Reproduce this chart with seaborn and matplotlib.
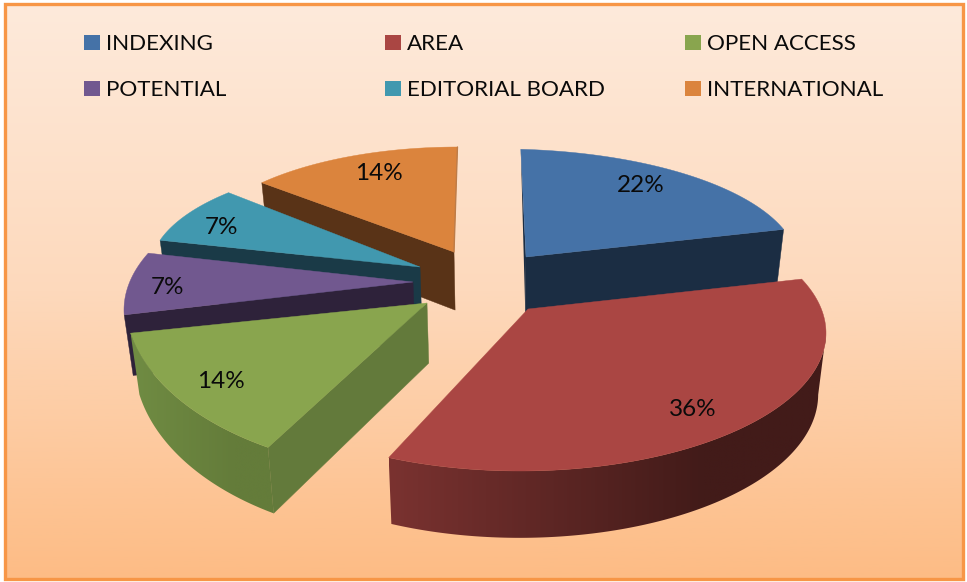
import numpy as np
import matplotlib
matplotlib.use("Agg")
import matplotlib.pyplot as plt
from matplotlib.colors import LinearSegmentedColormap
from matplotlib.patches import Polygon, Rectangle
import seaborn as sns

# ---- data ----
categories = ["INDEXING", "AREA", "OPEN ACCESS", "POTENTIAL", "EDITORIAL BOARD", "INTERNATIONAL"]
values = [22, 36, 14, 7, 7, 14]

# ---- styles ----
sns.set_theme(style="white")
plt.rcParams["font.family"] = ["Lato", "DejaVu Sans"]
top_colors = sns.color_palette(["#4572A7", "#AA4643", "#89A54E", "#71588F", "#4198AF", "#DB843D"])
cut_colors = sns.color_palette(["#1B2D43", "#78302F", "#637A3B", "#2E223A", "#1A3A47", "#593317"])
wall_left = ["#1B2D43", "#7A3230", "#708C43", "#2E223A", "#1A3A47", "#593317"]
wall_right = ["#1B2D43", "#421B19", "#647C3A", "#2E223A", "#1A3A47", "#593317"]

# ---- layout: one projected disc per slice (pixels of the 967x582 frame) ----
apex_x = [526, 528, 427, 413, 420, 454]
apex_y = [257, 309, 303, 282, 267, 252]
disc_x = [500, 520, 420, 406, 410, 458]
disc_y = [265, 333, 300, 310, 270, 255]
disc_a = [298, 306, 295, 282, 260, 264]
disc_b = [116, 138, 172, 140, 108, 108]
view_start = [4, 67, 211, 268, 286, 312]
view_stretch = [0.86, 1.068, 0.95, 1.03, 1.18, 0.95]
cut_edge = ["end", None, "start", "start", "start", "start"]
has_wall = [False, True, True, True, False, False]
draw_order = [5, 0, 4, 3, 2, 1]
label_x = [641, 693, 221, 167, 222, 379]
label_y = [186, 410, 382, 287, 227, 174]
legend_x = [84, 385, 685]
legend_y = [42, 88]


def lower(pts):
    """Project points of the top face to the bottom face of the slab."""
    pts = np.asarray(pts, dtype=float)
    return np.column_stack([
        pts[:, 0] + 0.024 * (500 - pts[:, 0]),
        pts[:, 1] + 58 + 0.04 * (pts[:, 1] - 250),
    ])


fig = plt.figure(figsize=(9.67, 5.82), dpi=100, facecolor="white")
ax = fig.add_axes([0, 0, 1, 1])

# background
bg = LinearSegmentedColormap.from_list("bg", ["#FEEADB", "#FDD9BC", "#FDBC85"])
ax.imshow(np.linspace(0, 1, 256).reshape(-1, 1), cmap=bg, aspect="auto",
          extent=(5, 962, 578, 4), zorder=0)
ax.add_patch(Rectangle((4.5, 4), 958, 575, fill=False, ec="#F79646", lw=2.4, zorder=1))

# slices
total = sum(values)
sweeps = [v / total * 360 for v in values]
for i in draw_order:
    t0 = np.radians(view_start[i])
    t1 = np.radians(view_start[i] + sweeps[i] * view_stretch[i])
    t = np.linspace(t0, t1, 180)
    arc = np.column_stack([disc_x[i] + disc_a[i] * np.sin(t), disc_y[i] - disc_b[i] * np.cos(t)])
    apex = np.array([[apex_x[i], apex_y[i]]], dtype=float)
    z = 3 + draw_order.index(i) * 3

    if has_wall[i]:
        front = arc[np.argmax(arc[:, 0]):]
        low = lower(front)
        outline = Polygon(np.vstack([front, low[::-1]]), closed=True, transform=ax.transData,
                          fc="none", ec="none")
        ax.add_patch(outline)
        xmin, xmax = min(front[:, 0].min(), low[:, 0].min()), max(front[:, 0].max(), low[:, 0].max())
        ymin, ymax = min(front[:, 1].min(), low[:, 1].min()), max(front[:, 1].max(), low[:, 1].max())
        cmap = LinearSegmentedColormap.from_list(f"wall{i}", [wall_left[i], wall_right[i]])
        ramp = np.clip(np.linspace(0, 1 / 0.72, 512), 0, 1).reshape(1, -1)
        im = ax.imshow(ramp, cmap=cmap, vmin=0, vmax=1, aspect="auto",
                       extent=(xmin, xmax, ymax, ymin), zorder=z, interpolation="bilinear")
        im.set_clip_path(outline)

    if cut_edge[i]:
        rim = arc[0] if cut_edge[i] == "start" else arc[-1]
        face = np.vstack([rim, apex[0], lower(apex)[0], lower([rim])[0]])
        ax.add_patch(Polygon(face, closed=True, fc=cut_colors[i], ec=cut_colors[i],
                             lw=0.3, zorder=z + 1))
    if categories[i] == "INDEXING":
        sliver = np.vstack([arc[0], apex[0], lower(apex)[0]])
        ax.add_patch(Polygon(sliver, closed=True, fc=cut_colors[i], ec="none", zorder=z + 1))

    top = np.vstack([apex, arc])
    ax.add_patch(Polygon(top, closed=True, fc=top_colors[i], ec=top_colors[i], lw=0.3, zorder=z + 2))

    if categories[i] == "INTERNATIONAL":
        ax.plot([arc[-1, 0], apex[0, 0]], [arc[-1, 1], apex[0, 1]], color="#BD7C48", lw=1.0, zorder=z + 2)

# percentage labels
for i, v in enumerate(values):
    ax.text(label_x[i], label_y[i], f"{v}%", ha="center", va="center",
            fontsize=17.5, color="#0A0A0A", zorder=40)

# legend
for i, name in enumerate(categories):
    col, row = i % 3, i // 3
    lx, ly = legend_x[col], legend_y[row]
    ax.add_patch(Rectangle((lx, ly - 7.5), 15.5, 15.5, fc=top_colors[i], ec="none", zorder=40))
    ax.text(lx + 22, ly + 1.5, name, ha="left", va="center", fontsize=16.1, color="#0A0A0A", zorder=40)

ax.set_xlim(0, 967)
ax.set_ylim(582, 0)
ax.axis("off")
fig.savefig("out.png", dpi=100, facecolor="white")
